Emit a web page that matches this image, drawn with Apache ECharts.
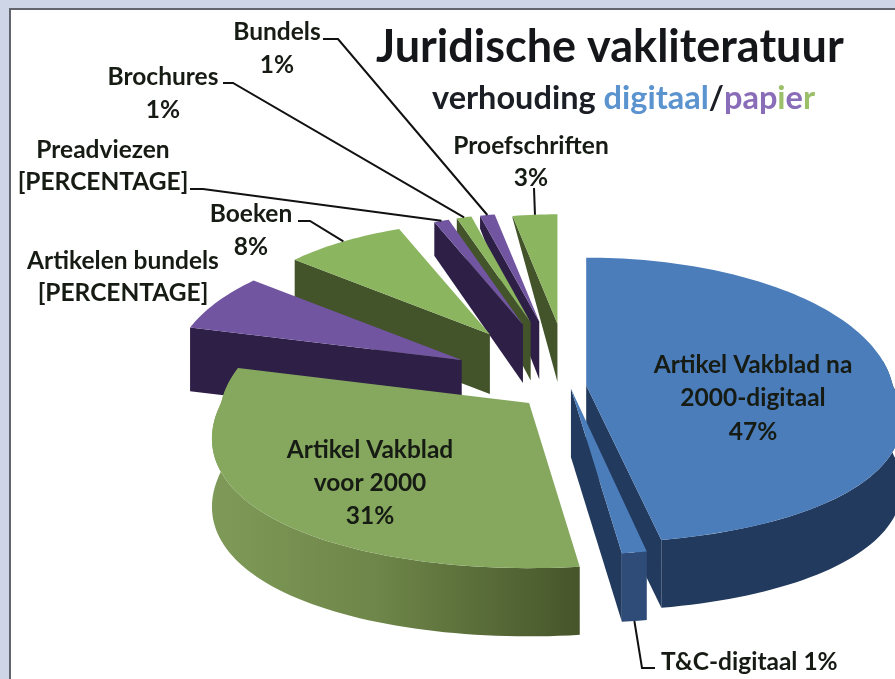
<!DOCTYPE html>
<html>
<head>
<meta charset="utf-8">
<script src="https://cdn.jsdelivr.net/npm/echarts@6/dist/echarts.min.js"></script>
<style>
  html, body { margin: 0; padding: 0; background: #ced5e6; }
  #chart { width: 895px; height: 679px; }
</style>
</head>
<body>
<div id="chart"></div>
<script>
// values as printed on the slices, clockwise from 12 o'clock
const names = ["Artikel Vakblad na 2000-digitaal", "T&C-digitaal", "Artikel Vakblad voor 2000", "Artikelen bundels", "Boeken", "Preadviezen", "Brochures", "Bundels", "Proefschriften"];
const values = [47, 1, 31, 7, 8, 1, 1, 1, 3];
const shownValues = ["47%", "1%", "31%", "[PERCENTAGE]", "8%", "[PERCENTAGE]", "1%", "1%", "3%"];

// how far each slice is pulled out of the pie (in radii)
const explode = [0.053, 0.02, 0.175, 0.405, 0.465, 0.478, 0.486, 0.487, 0.46];
const sliceScale = [1, 1, 0.96, 1, 1, 1, 1, 1, 1];
const frontSquash = [0.96, 1, 1, 1, 1, 1, 1, 1, 1];
const kinds = ["blue", "blue", "greenDull", "purple", "green", "purple", "green", "purple", "green"];
const backToFront = [8, 7, 6, 5, 4, 3, 2, 0, 1];

const palette = {
  blue: { top: "#4c7dbb", wall: "#223a5e" },
  greenDull: { top: "#86a85e", wall: "#4a5a2c" },
  green: { top: "#8bb55f", wall: "#43532a" },
  purple: { top: "#7155a1", wall: "#2e1f47" },
};

const PIE = { cx: 570, cy: 386, a: 307, b: 144, persp: 0.126, perspXFront: 0.24, perspXBack: 0.1, apexPersp: 0.37, depth: 68 };

const FONT = "Lato, 'Open Sans', sans-serif";

// label placement: [x, y of first line, line gap, align]
const labelPos = [
  [753, 365, 33.5, "center"],
  [661, 662, 0, "left"],
  [370, 450, 33, "center"],
  [123, 261, 32, "center"],
  [251, 214, 33, "center"],
  [103, 150, 32, "center"],
  [163, 77, 33, "center"],
  [277, 32, 33, "center"],
  [531, 146, 32, "center"],
];
// leader line start and knee, ends on the slice rim
const leaders = [
  null,
  [[655, 668], [642, 668]],
  null,
  null,
  [[298, 221], [310, 221]],
  [[190, 189], [203, 189]],
  [[223, 83], [233, 83]],
  [[323, 39], [338, 39]],
  [[534, 188]],
];

const total = values.reduce((s, v) => s + v, 0);
const rad = d => (d * Math.PI) / 180;
let acc = 0;
const slices = values.map((v, i) => {
  const start = (acc / total) * 360;
  acc += v;
  const end = (acc / total) * 360;
  const mid = rad((start + end) / 2);
  const e = explode[i];
  const z0 = -Math.cos(mid) * e;
  return {
    start, end,
    apex: [PIE.cx + PIE.a * Math.sin(mid) * e / (1 - PIE.persp * z0),
           PIE.cy + PIE.b * z0 / (1 - PIE.persp * z0)],
    k: sliceScale[i] / (1 - PIE.apexPersp * z0),
    squash: frontSquash[i],
  };
});

// point on the rim of a slice, at angle deg
function rim(sl, deg) {
  const t = rad(deg);
  const u = -Math.cos(t);
  const sx = sl.k / (1 - (u > 0 ? PIE.perspXFront : PIE.perspXBack) * u);
  const sy = (sl.k / (1 - PIE.persp * u)) * (u > 0 ? sl.squash : 1);
  return [sl.apex[0] + PIE.a * Math.sin(t) * sx, sl.apex[1] + PIE.b * u * sy];
}
function arc(sl, d0, d1) {
  const pts = [];
  const n = Math.max(2, Math.ceil(Math.abs(d1 - d0) / 1.5));
  for (let i = 0; i <= n; i++) pts.push(rim(sl, d0 + ((d1 - d0) * i) / n));
  return pts;
}
// the far rim corners show almost no wall, near the back the height drops away
function rimDrop(sl, deg) {
  const back = 360 - deg;
  const f = deg > 300 ? Math.min(1, Math.max(0.03, (back - 10) / 20)) : 1;
  return PIE.depth * sl.k * f;
}
const down = (p, h) => [p[0], p[1] + h];

function sliceElements(i) {
  const sl = slices[i];
  const col = palette[kinds[i]];
  const h = PIE.depth * sl.k;
  const z = backToFront.indexOf(i) * 10 + 1;
  const els = [];
  const apexLow = down(sl.apex, h);

  if (sl.start > 180) {
    // back left slices: wall under the starting edge
    const p = rim(sl, sl.start);
    els.push({ type: "polygon", z2: z, shape: { points: [p, sl.apex, apexLow, down(p, rimDrop(sl, sl.start))] }, style: { fill: col.wall } });
  } else if (i === 2) {
    // front left: only the outer wall shows, shaded along its length
    const top = arc(sl, sl.start, sl.end);
    const low = top.map(p => down(p, h)).reverse();
    els.push({
      type: "polygon", z2: z, shape: { points: top.concat(low) },
      style: { fill: new echarts.graphic.LinearGradient(0, 0, 1, 0, [
        { offset: 0, color: "#7f9a58" }, { offset: 0.45, color: "#6e8649" }, { offset: 1, color: "#46552a" },
      ]) },
    });
  } else {
    // right hand slices: wall under the closing edge, then the outer wall
    const p = rim(sl, sl.end);
    els.push({ type: "polygon", z2: z, shape: { points: [sl.apex, p, down(p, h), apexLow] }, style: { fill: col.wall } });
    const top = arc(sl, sl.start < 60 ? 80 : sl.start, sl.end);
    const low = top.map(q => down(q, h)).reverse();
    els.push({
      type: "polygon", z2: z + 1, shape: { points: top.concat(low) },
      style: { fill: i === 1 ? "#2f4b78" : col.wall },
    });
  }
  const face = [sl.apex].concat(arc(sl, sl.start, sl.end));
  els.push({ type: "polygon", z2: z + 2, shape: { points: face }, style: { fill: col.top } });
  return els;
}

function labelElements(i) {
  const pos = labelPos[i];
  const lines = i === 1
    ? [names[i] + " " + shownValues[i]]
    : i === 0 ? ["Artikel Vakblad na", "2000-digitaal", shownValues[i]]
    : i === 2 ? ["Artikel Vakblad", "voor 2000", shownValues[i]]
    : [names[i], shownValues[i]];
  const els = lines.map((t, n) => ({
    type: "text", z2: 200,
    style: {
      text: t, x: pos[0], y: pos[1] + n * pos[2],
      align: pos[3], verticalAlign: "middle",
      fill: "#161b14", font: "bold 24.5px " + FONT,
    },
  }));
  if (leaders[i]) {
    const mid = (slices[i].start + slices[i].end) / 2;
    let end = rim(slices[i], mid);
    if (i === 1) end = down(end, PIE.depth * slices[i].k);
    els.push({
      type: "polyline", z2: 150,
      shape: { points: leaders[i].concat([end]) },
      style: { stroke: "#111", lineWidth: 2, fill: null },
    });
  }
  return els;
}

const subStyle = color => ({ fontFamily: FONT, fontWeight: "bold", fontSize: 32.5, color });
const chart = echarts.init(document.getElementById("chart"), null, { renderer: "canvas" });
chart.setOption({
  animation: false,
  backgroundColor: "#ced5e6",
  title: [
    {
      text: "Juridische vakliteratuur",
      left: 376, top: 25, padding: 0,
      textStyle: { fontFamily: FONT, fontWeight: "bold", fontSize: 45, color: "#14161a" },
    },
    {
      text: "{a|verhouding }{b|digitaal}{a|/}{c|pap}{d|i}{c|e}{d|r}",
      left: 432, top: 82, padding: 0,
      textStyle: {
        rich: {
          a: subStyle("#1b1e24"),
          b: subStyle("#5b93cf"),
          c: subStyle("#8a6db8"),
          d: subStyle("#9cc06a"),
        },
      },
    },
  ],
  graphic: [
    { type: "rect", z: -1, shape: { x: 10, y: 9, width: 900, height: 700 }, style: { fill: "#fff", stroke: "#62656e", lineWidth: 2 } },
  ],
  series: [
    {
      type: "custom",
      coordinateSystem: "none",
      data: values.map((v, i) => ({ name: names[i], value: [v, i] })),
      renderItem(params, api) {
        const i = api.value(1);
        return { type: "group", children: sliceElements(i).concat(labelElements(i)) };
      },
    },
  ],
});
</script>
</body>
</html>
